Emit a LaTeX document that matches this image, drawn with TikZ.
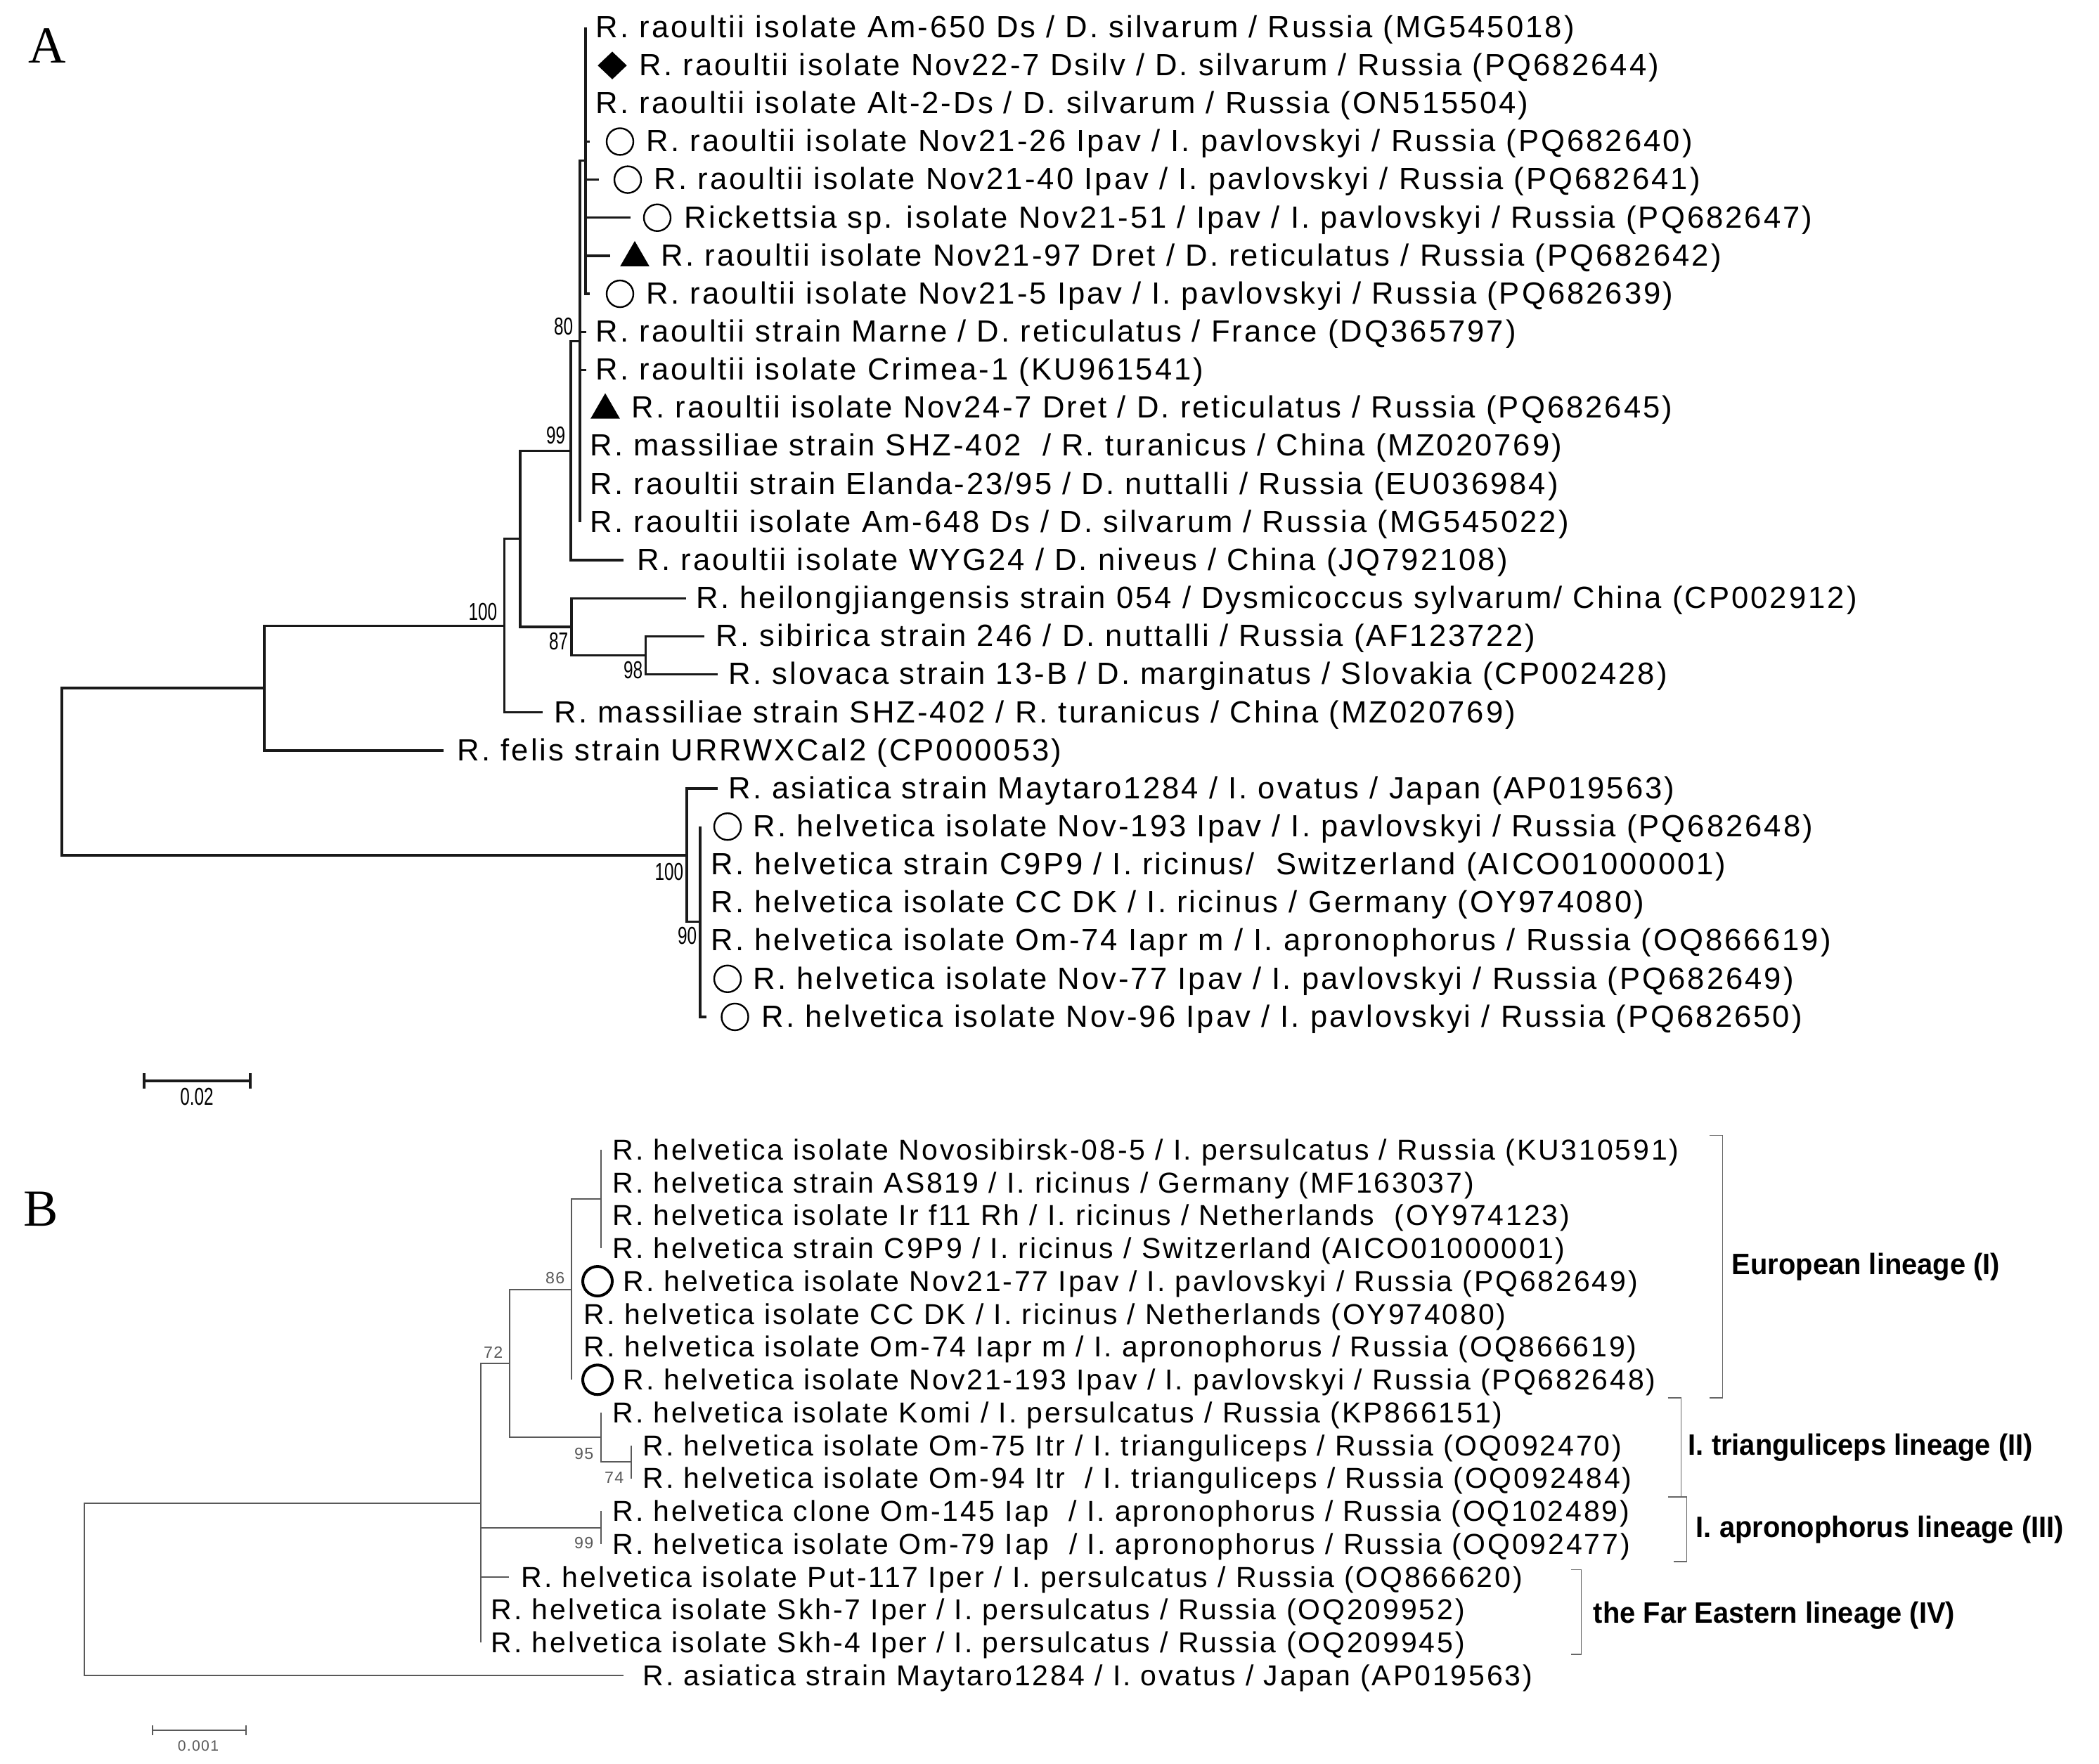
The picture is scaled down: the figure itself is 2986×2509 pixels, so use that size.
\documentclass[tikz,border=0pt]{standalone}
\usepackage{fontspec}
\setmainfont{Liberation Sans}
\newfontfamily\labfont[LetterSpace=7]{Liberation Sans}
\newfontfamily\bsfont[FakeStretch=0.7]{Liberation Sans}
\newfontfamily\bbsfont[LetterSpace=6]{Liberation Sans}
\newfontfamily\linfont[FakeStretch=0.95]{Liberation Sans}
\newfontfamily\panfont{Liberation Serif}
\usetikzlibrary{shapes.geometric}
\tikzset{
  brA/.style={line width=0.85pt, draw=black!90},
  brB/.style={line width=0.5pt, draw=black!65},
  brk/.style={line width=0.4pt, draw=black!60},
  labA/.style={anchor=west, inner sep=0pt, text height=0.716em, text depth=0pt, font=\labfont\fontsize{10.9}{12}\selectfont},
  labB/.style={anchor=west, inner sep=0pt, text height=0.716em, text depth=0pt, font=\labfont\fontsize{10.25}{12}\selectfont},
  bsA/.style={anchor=east, inner sep=0pt, font=\bsfont\fontsize{8.7}{10}\selectfont},
  bsB/.style={anchor=east, inner sep=0pt, text=black!65, font=\bbsfont\fontsize{5.8}{7}\selectfont},
  lin/.style={anchor=west, inner sep=0pt, text height=0.716em, text depth=0pt, font=\linfont\bfseries\fontsize{10.5}{12}\selectfont},
  circA/.style={circle, draw, line width=0.6pt, minimum size=9.5pt, inner sep=0pt},
  triA/.style={regular polygon, regular polygon sides=3, fill=black, inner sep=0pt, minimum size=12pt},
  diaA/.style={diamond, fill=black, inner sep=0pt, minimum width=10.5pt, minimum height=10pt},
  circB/.style={circle, draw, line width=1pt, minimum size=10.5pt, inner sep=0pt},
  pan/.style={inner sep=0pt, font=\panfont\fontsize{18.5}{20}\selectfont}
}
\begin{document}
\begin{tikzpicture}[x=0.25pt, y=-0.25pt]
\useasboundingbox (0,0) rectangle (2986,2509);
\fill[white] (0,0) rectangle (2986,2509);

% ---------------- Panel A ----------------
\node[pan] (panA) at (67,65) {A};

% internal nodes
\coordinate (s1) at (833,228.5);
\coordinate (n80) at (825,485.7);
\coordinate (n99) at (812,641.4);
\coordinate (n98) at (918.5,932.5);
\coordinate (n87) at (813,891.9);
\coordinate (nX) at (740,766.6);
\coordinate (n100) at (717.5,890.2);
\coordinate (nF) at (376,979);
\coordinate (h90) at (996,1311.5);
\coordinate (h100) at (977,1216.8);
\coordinate (rootA) at (88,1097.9);

% leaf tips
\coordinate (e1) at (833,39);
\coordinate (e2) at (833,93.15);
\coordinate (e3) at (833,147.3);
\coordinate (e4) at (839,201.45);
\coordinate (e5) at (852,255.6);
\coordinate (e6) at (897,309.75);
\coordinate (e7) at (868,363.9);
\coordinate (e8) at (839,418.05);
\coordinate (e9) at (834,472.2);
\coordinate (e10) at (834,526.35);
\coordinate (e11) at (825,580.5);
\coordinate (e12) at (825,634.65);
\coordinate (e13) at (825,688.8);
\coordinate (e14) at (825,742.95);
\coordinate (e15) at (887,797.1);
\coordinate (e16) at (976,851.25);
\coordinate (e17) at (1002,905.4);
\coordinate (e18) at (1021,959.55);
\coordinate (e19) at (772,1013.7);
\coordinate (e20) at (631,1067.85);
\coordinate (e21) at (1021,1122);
\coordinate (e22) at (996,1176.15);
\coordinate (e23) at (996,1230.3);
\coordinate (e24) at (996,1284.45);
\coordinate (e25) at (996,1338.6);
\coordinate (e26) at (996,1392.75);
\coordinate (e27) at (1005,1446.9);

% branches
\foreach \c in {e1,e2,e3,e4,e5,e6,e7,e8} \draw[brA] (s1) |- (\c);
\foreach \c in {s1,e9,e10,e11,e12,e13,e14} \draw[brA] (n80) |- (\c);
\foreach \c in {n80,e15} \draw[brA] (n99) |- (\c);
\foreach \c in {e17,e18} \draw[brA] (n98) |- (\c);
\foreach \c in {e16,n98} \draw[brA] (n87) |- (\c);
\foreach \c in {n99,n87} \draw[brA] (nX) |- (\c);
\foreach \c in {nX,e19} \draw[brA] (n100) |- (\c);
\foreach \c in {n100,e20} \draw[brA] (nF) |- (\c);
\foreach \c in {nF,h100} \draw[brA] (rootA) |- (\c);
\foreach \c in {e21,h90} \draw[brA] (h100) |- (\c);
\foreach \c in {e22,e23,e24,e25,e26,e27} \draw[brA] (h90) |- (\c);

% markers
\node[diaA] (m2) at (871,93.15) {};
\node[circA] (m4) at (882,201.45) {};
\node[circA] (m5) at (893,255.6) {};
\node[circA] (m6) at (935,309.75) {};
\node[triA] (m7) at (903,366.9) {};
\node[circA] (m8) at (882,418.05) {};
\node[triA] (m11) at (861,583.5) {};
\node[circA] (m22) at (1035,1176.15) {};
\node[circA] (m26) at (1035,1392.75) {};
\node[circA] (m27) at (1045.5,1446.9) {};

% labels
\node[labA] (t1) at (847,39) {R. raoultii isolate Am-650 Ds / D. silvarum / Russia (MG545018)};
\node[labA] (t2) at (909,93.15) {R. raoultii isolate Nov22-7 Dsilv / D. silvarum / Russia (PQ682644)};
\node[labA] (t3) at (847,147.3) {R. raoultii isolate Alt-2-Ds / D. silvarum / Russia (ON515504)};
\node[labA] (t4) at (919,201.45) {R. raoultii isolate Nov21-26 Ipav / I. pavlovskyi / Russia (PQ682640)};
\node[labA] (t5) at (930,255.6) {R. raoultii isolate Nov21-40 Ipav / I. pavlovskyi / Russia (PQ682641)};
\node[labA] (t6) at (973,309.75) {Rickettsia sp. isolate Nov21-51 / Ipav / I. pavlovskyi / Russia (PQ682647)};
\node[labA] (t7) at (940,363.9) {R. raoultii isolate Nov21-97 Dret / D. reticulatus / Russia (PQ682642)};
\node[labA] (t8) at (919,418.05) {R. raoultii isolate Nov21-5 Ipav / I. pavlovskyi / Russia (PQ682639)};
\node[labA] (t9) at (847,472.2) {R. raoultii strain Marne / D. reticulatus / France (DQ365797)};
\node[labA] (t10) at (847,526.35) {R. raoultii isolate Crimea-1 (KU961541)};
\node[labA] (t11) at (898,580.5) {R. raoultii isolate Nov24-7 Dret / D. reticulatus / Russia (PQ682645)};
\node[labA] (t12) at (839,634.65) {R. massiliae strain SHZ-402\ \ / R. turanicus / China (MZ020769)};
\node[labA] (t13) at (839,688.8) {R. raoultii strain Elanda-23/95 / D. nuttalli / Russia (EU036984)};
\node[labA] (t14) at (839,742.95) {R. raoultii isolate Am-648 Ds / D. silvarum / Russia (MG545022)};
\node[labA] (t15) at (906,797.1) {R. raoultii isolate WYG24 / D. niveus / China (JQ792108)};
\node[labA] (t16) at (990,851.25) {R. heilongjiangensis strain 054 / Dysmicoccus sylvarum/ China (CP002912)};
\node[labA] (t17) at (1018,905.4) {R. sibirica strain 246 / D. nuttalli / Russia (AF123722)};
\node[labA] (t18) at (1036,959.55) {R. slovaca strain 13-B / D. marginatus / Slovakia (CP002428)};
\node[labA] (t19) at (788,1013.7) {R. massiliae strain SHZ-402 / R. turanicus / China (MZ020769)};
\node[labA] (t20) at (650,1067.85) {R. felis strain URRWXCal2 (CP000053)};
\node[labA] (t21) at (1036,1122) {R. asiatica strain Maytaro1284 / I. ovatus / Japan (AP019563)};
\node[labA] (t22) at (1071,1176.15) {R. helvetica isolate Nov-193 Ipav / I. pavlovskyi / Russia (PQ682648)};
\node[labA] (t23) at (1011,1230.3) {R. helvetica strain C9P9 / I. ricinus/\ \ Switzerland (AICO01000001)};
\node[labA] (t24) at (1011,1284.45) {R. helvetica isolate CC DK / I. ricinus / Germany (OY974080)};
\node[labA] (t25) at (1011,1338.6) {R. helvetica isolate Om-74 Iapr m / I. apronophorus / Russia (OQ866619)};
\node[labA] (t26) at (1071,1392.75) {R. helvetica isolate Nov-77 Ipav / I. pavlovskyi / Russia (PQ682649)};
\node[labA] (t27) at (1083,1446.9) {R. helvetica isolate Nov-96 Ipav / I. pavlovskyi / Russia (PQ682650)};

% bootstrap values
\node[bsA] (b80) at (816,465) {80};
\node[bsA] (b99) at (805,619) {99};
\node[bsA] (b100) at (708,870.5) {100};
\node[bsA] (b87) at (809,912) {87};
\node[bsA] (b98) at (915,953) {98};
\node[bsA] (b100h) at (973,1240) {100};
\node[bsA] (b90) at (992,1331.5) {90};

% scale bar A
\coordinate (sa1) at (205,1538);
\coordinate (sa2) at (356,1538);
\draw[brA] (sa1) -- (sa2);
\draw[brA] (205,1527) -- (205,1549);
\draw[brA] (356,1527) -- (356,1549);
\node[inner sep=0pt, font=\bsfont\fontsize{8.7}{10}\selectfont] (sal) at (280,1560) {0.02};

% ---------------- Panel B ----------------
\node[pan] (panB) at (58,1720) {B};

\coordinate (bS) at (855,1706.1);
\coordinate (b86) at (813,1834.7);
\coordinate (b74) at (898,2080.1);
\coordinate (b95) at (855,2045);
\coordinate (b72) at (725,1939.9);
\coordinate (b99) at (855,2173.6);
\coordinate (bN) at (684,2138.6);
\coordinate (rootB) at (120,2261.3);

\coordinate (f1) at (855,1636);
\coordinate (f2) at (855,1682.75);
\coordinate (f3) at (855,1729.5);
\coordinate (f4) at (855,1776.25);
\coordinate (f5) at (813,1823);
\coordinate (f6) at (813,1869.75);
\coordinate (f7) at (813,1916.5);
\coordinate (f8) at (813,1963.25);
\coordinate (f9) at (855,2010);
\coordinate (f10) at (898,2056.75);
\coordinate (f11) at (898,2103.5);
\coordinate (f12) at (855,2150.25);
\coordinate (f13) at (855,2197);
\coordinate (f14) at (724,2243.75);
\coordinate (f15) at (684,2290.5);
\coordinate (f16) at (684,2337.25);
\coordinate (f17) at (886.5,2384);

\foreach \c in {f1,f2,f3,f4} \draw[brB] (bS) |- (\c);
\foreach \c in {bS,f5,f6,f7,f8} \draw[brB] (b86) |- (\c);
\foreach \c in {f10,f11} \draw[brB] (b74) |- (\c);
\foreach \c in {f9,b74} \draw[brB] (b95) |- (\c);
\foreach \c in {b86,b95} \draw[brB] (b72) |- (\c);
\foreach \c in {f12,f13} \draw[brB] (b99) |- (\c);
\foreach \c in {b72,b99,f14,f15,f16} \draw[brB] (bN) |- (\c);
\foreach \c in {bN,f17} \draw[brB] (rootB) |- (\c);

\node[circB] (mb5) at (850,1823) {};
\node[circB] (mb8) at (850,1963.25) {};

\node[labB] (u1) at (871,1636) {R. helvetica isolate Novosibirsk-08-5 / I. persulcatus / Russia (KU310591)};
\node[labB] (u2) at (871,1682.75) {R. helvetica strain AS819 / I. ricinus / Germany (MF163037)};
\node[labB] (u3) at (871,1729.5) {R. helvetica isolate Ir f11 Rh / I. ricinus / Netherlands\ \ (OY974123)};
\node[labB] (u4) at (871,1776.25) {R. helvetica strain C9P9 / I. ricinus / Switzerland (AICO01000001)};
\node[labB] (u5) at (886,1823) {R. helvetica isolate Nov21-77 Ipav / I. pavlovskyi / Russia (PQ682649)};
\node[labB] (u6) at (830,1869.75) {R. helvetica isolate CC DK / I. ricinus / Netherlands (OY974080)};
\node[labB] (u7) at (830,1916.5) {R. helvetica isolate Om-74 Iapr m / I. apronophorus / Russia (OQ866619)};
\node[labB] (u8) at (886,1963.25) {R. helvetica isolate Nov21-193 Ipav / I. pavlovskyi / Russia (PQ682648)};
\node[labB] (u9) at (871,2010) {R. helvetica isolate Komi / I. persulcatus / Russia (KP866151)};
\node[labB] (u10) at (914,2056.75) {R. helvetica isolate Om-75 Itr / I. trianguliceps / Russia (OQ092470)};
\node[labB] (u11) at (914,2103.5) {R. helvetica isolate Om-94 Itr\ \ / I. trianguliceps / Russia (OQ092484)};
\node[labB] (u12) at (871,2150.25) {R. helvetica clone Om-145 Iap\ \ / I. apronophorus / Russia (OQ102489)};
\node[labB] (u13) at (871,2197) {R. helvetica isolate Om-79 Iap\ \ / I. apronophorus / Russia (OQ092477)};
\node[labB] (u14) at (741,2243.75) {R. helvetica isolate Put-117 Iper / I. persulcatus / Russia (OQ866620)};
\node[labB] (u15) at (698,2290.5) {R. helvetica isolate Skh-7 Iper / I. persulcatus / Russia (OQ209952)};
\node[labB] (u16) at (698,2337.25) {R. helvetica isolate Skh-4 Iper / I. persulcatus / Russia (OQ209945)};
\node[labB] (u17) at (914,2384) {R. asiatica strain Maytaro1284 / I. ovatus / Japan (AP019563)};

\node[bsB] (c86) at (804,1818) {86};
\node[bsB] (c72) at (716,1924) {72};
\node[bsB] (c95) at (845,2068) {95};
\node[bsB] (c74) at (888,2102) {74};
\node[bsB] (c99) at (845,2195) {99};

% brackets
\draw[brk] (2431.6,1615.6) -- (2450.5,1615.6) -- (2450.5,1989) -- (2431.6,1989);
\draw[brk] (2372.6,1989) -- (2391.4,1989) -- (2391.4,2130) -- (2372.6,2130);
\draw[brk] (2380.8,2130) -- (2399.6,2130) -- (2399.6,2222) -- (2380.8,2222);
\draw[brk] (2234.8,2233.6) -- (2249.5,2233.6) -- (2249.5,2354) -- (2234.8,2354);
\node[lin] (l1) at (2463,1799.5) {European lineage (I)};
\node[lin] (l2) at (2401,2056) {I. trianguliceps lineage (II)};
\node[lin] (l3) at (2412,2173) {I. apronophorus lineage (III)};
\node[lin] (l4) at (2266,2294.7) {the Far Eastern lineage (IV)};

% scale bar B
\coordinate (sb1) at (217,2462);
\coordinate (sb2) at (349.5,2462);
\draw[brB] (sb1) -- (sb2);
\draw[brB] (217,2455) -- (217,2469);
\draw[brB] (349.5,2455) -- (349.5,2469);
\node[inner sep=0pt, text=black!65, font=\bbsfont\fontsize{5.3}{6}\selectfont] (sbl) at (282,2484) {0.001};
\end{tikzpicture}
\end{document}
